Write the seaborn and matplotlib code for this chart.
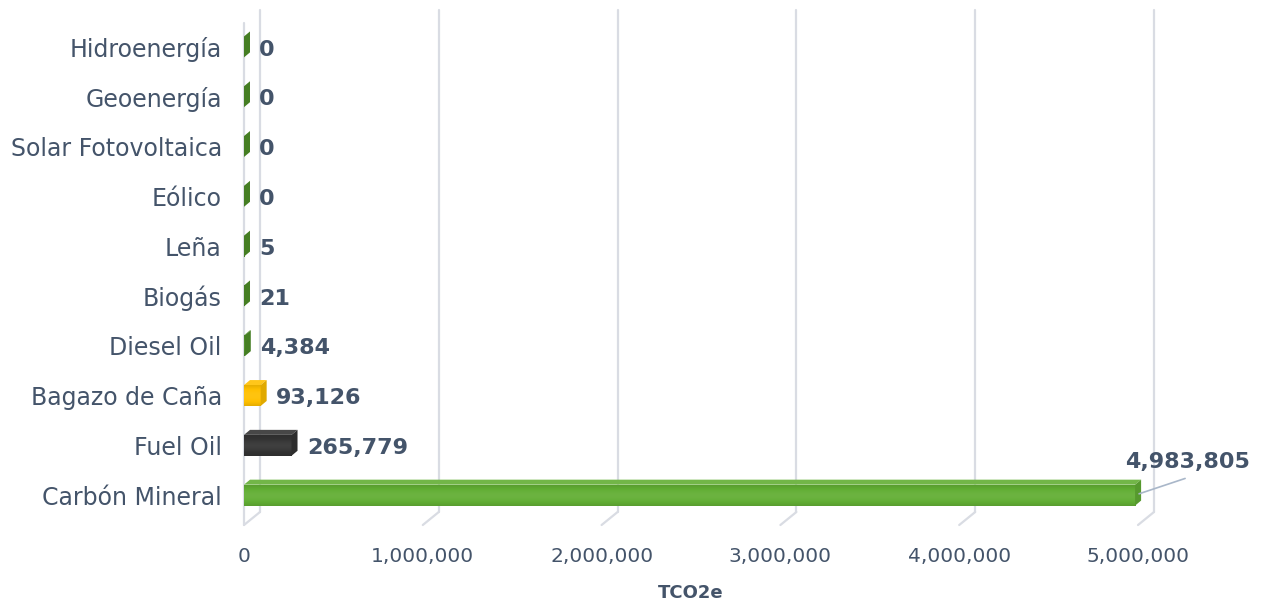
import matplotlib
matplotlib.use("Agg")
import matplotlib.pyplot as plt
import seaborn as sns
import pandas as pd
import numpy as np
import matplotlib.colors as mcolors
from matplotlib.patches import Polygon
from matplotlib.lines import Line2D
from matplotlib.transforms import IdentityTransform

# ---------------- data ----------------
categories = ["Hidroenergía", "Geoenergía", "Solar Fotovoltaica", "Eólico", "Leña",
              "Biogás", "Diesel Oil", "Bagazo de Caña", "Fuel Oil", "Carbón Mineral"]
values = [0, 0, 0, 0, 5, 21, 4384, 93126, 265779, 4983805]
value_labels = ["0", "0", "0", "0", "5", "21", "4,384", "93,126", "265,779", "4,983,805"]
bar_colors = ["#4E8F28"] * 7 + ["#FFC000", "#333333", "#62AE34"]
x_ticks = [0, 1000000, 2000000, 3000000, 4000000, 5000000]
x_tick_labels = ["0", "1,000,000", "2,000,000", "3,000,000", "4,000,000", "5,000,000"]
x_label = "TCO2e"

# ---------------- style ----------------
sns.set_theme(style="white")
plt.rcParams['font.family'] = ['DejaVu Sans']
TXT = "#44546A"
GRID = "#D9DCE3"

W, H = 1269, 606
fig = plt.figure(figsize=(W / 100, H / 100), dpi=100)
ax_left, ax_bottom, ax_right, ax_top = 244, 525, 1138, 23
ax = fig.add_axes([ax_left / W, (H - ax_bottom) / H, (ax_right - ax_left) / W, (ax_bottom - ax_top) / H])

df = pd.DataFrame({"cat": categories, "val": values})
sns.barplot(data=df, y="cat", x="val", hue="cat", palette=bar_colors, orient="h",
            width=0.42, legend=False, ax=ax, saturation=1, linewidth=0, zorder=3)

XLIM = (0, 5000000)
YLIM = (9.6, -0.48)
ax.set_xlim(*XLIM)
ax.set_ylim(*YLIM)
ax.set_xticks(x_ticks)
ax.set_xticklabels(x_tick_labels, fontsize=14.5, color=TXT)
ax.set_yticks(range(len(categories)))
ax.set_yticklabels(categories, fontsize=17, color=TXT)
ax.tick_params(axis="x", length=0, pad=16)
ax.tick_params(axis="y", length=0, pad=16)
ax.set_xlabel(x_label, fontsize=13, fontweight="bold", color=TXT, labelpad=13)
ax.set_ylabel("")
for s in ax.spines.values():
    s.set_visible(False)
ax.grid(False)

# ---------------- 3D walls / gridlines ----------------
DX_W, DY_W = 16, 13
Ybot = H - ax_bottom
Ytop_back = H - 10
for t in x_ticks:
    X = ax.transData.transform((t, 0))[0]
    ax.add_line(Line2D([X + DX_W, X + DX_W], [Ybot + DY_W, Ytop_back], color=GRID, lw=1.6,
                       transform=IdentityTransform(), clip_on=False, zorder=0))
    ax.add_line(Line2D([X, X + DX_W], [Ybot, Ybot + DY_W], color=GRID, lw=1.6,
                       transform=IdentityTransform(), clip_on=False, zorder=0))
X0 = ax.transData.transform((0, 0))[0]
ax.add_line(Line2D([X0, X0], [Ybot, H - ax_top], color=GRID, lw=1.6,
                   transform=IdentityTransform(), clip_on=False, zorder=0))

# ---------------- 3D bar faces ----------------
DX, DY = 6, 5
def shade(c, f):
    r, g, b = mcolors.to_rgb(c)
    if f >= 0:
        return (r + (1 - r) * f, g + (1 - g) * f, b + (1 - b) * f)
    return (r * (1 + f), g * (1 + f), b * (1 + f))

bars = list(ax.patches[:len(categories)])
for p in bars:
    x0, w, y, h = p.get_x(), p.get_width(), p.get_y(), p.get_height()
    c = p.get_facecolor()
    if w > 0:
        t = np.linspace(0, 1, 64)
        prof = 0.16 * np.sin(np.pi * t) - 0.1
        base = np.array(mcolors.to_rgb(c))
        img = np.array([shade(base, f) for f in prof])[:, None, :]
        im = ax.imshow(img, extent=(x0, x0 + w, y + h, y), aspect="auto",
                       interpolation="bilinear", zorder=3.5)
        im.set_clip_path(p)
    (Xa, Ya) = ax.transData.transform((x0, y))
    (Xb, Yb) = ax.transData.transform((x0 + w, y + h))
    Xl, Xr = min(Xa, Xb), max(Xa, Xb)
    Yl, Yh = min(Ya, Yb), max(Ya, Yb)
    top = Polygon([(Xl, Yh), (Xr, Yh), (Xr + DX, Yh + DY), (Xl + DX, Yh + DY)],
                  closed=True, facecolor=shade(c, 0.1), edgecolor="none",
                  transform=IdentityTransform(), clip_on=False, zorder=4)
    side = Polygon([(Xr, Yl), (Xr, Yh), (Xr + DX, Yh + DY), (Xr + DX, Yl + DY)],
                   closed=True, facecolor=shade(c, -0.12), edgecolor="none",
                   transform=IdentityTransform(), clip_on=False, zorder=4)
    ax.add_patch(top)
    ax.add_patch(side)

ax.set_xlim(*XLIM)
ax.set_ylim(*YLIM)

# ---------------- value labels ----------------
for i, (v, lab) in enumerate(zip(values, value_labels)):
    if i == len(values) - 1:
        ax.annotate("", xy=(v, i), xytext=(36, 12), textcoords="offset points",
                    arrowprops=dict(arrowstyle="-", color="#A9B7C9", lw=1.2,
                                    shrinkA=0, shrinkB=3),
                    zorder=5)
        ax.annotate(lab, xy=(v, i), xytext=(38, 17), textcoords="offset points",
                    ha="center", va="bottom", fontsize=16, fontweight="bold", color=TXT,
                    zorder=5)
    else:
        ax.annotate(lab, xy=(v, i), xytext=(11, -2), textcoords="offset points",
                    ha="left", va="center", fontsize=16, fontweight="bold", color=TXT,
                    zorder=5)

fig.savefig("out.png", dpi=100)
